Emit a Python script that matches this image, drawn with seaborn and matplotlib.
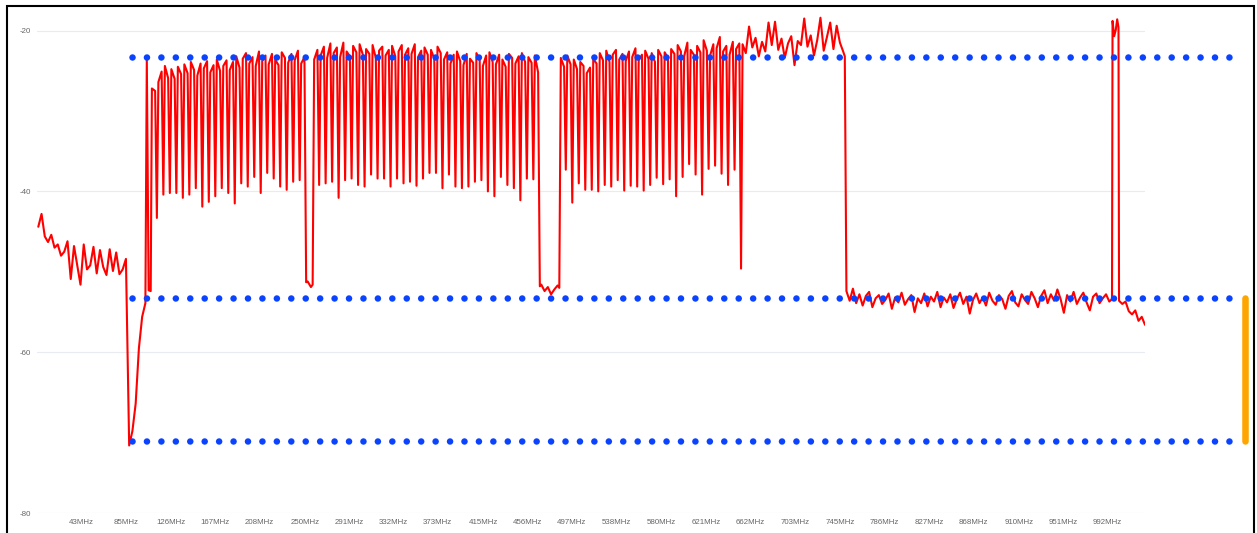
import numpy as np
import pandas as pd
import matplotlib
matplotlib.use("Agg")
import matplotlib.pyplot as plt
import seaborn as sns
from matplotlib.patches import Rectangle

sns.set_theme(style="white")
plt.rcParams["font.family"] = ["Liberation Sans", "DejaVu Sans"]
plt.rcParams["axes.unicode_minus"] = False

# sweep bins: 3 MHz apart, first bin at 3.7 MHz (levels in dBm)
SWEEP_START_MHZ = 3.7
SWEEP_STEP_MHZ = 3.0
sweep_dbm = [
    -44.4, -42.8, -45.6, -46.3, -45.4, -47.0, -46.6, -48.0, -47.5, -46.2,
    -50.9, -46.8, -49.2, -51.6, -46.6, -49.7, -49.2, -46.9, -50.2, -47.3,
    -49.4, -50.4, -47.2, -49.9, -47.6, -50.3, -49.7, -48.4, -71.6, -69.8,
    -66.4, -59.5, -55.6, -53.9, -52.3, -27.2, -27.5, -26.4, -25.1, -24.4,
    -25.9, -24.8, -26.0, -24.5, -25.4, -24.2, -25.3, -23.9, -24.9, -25.6,
    -24.1, -24.7, -23.8, -25.2, -24.3, -23.6, -25.0, -24.4, -23.7, -24.9,
    -23.9, -23.2, -24.6, -23.5, -22.8, -24.1, -23.3, -24.4, -22.6, -23.8,
    -23.1, -24.2, -22.9, -23.6, -24.3, -22.7, -23.4, -24.0, -22.9, -23.7,
    -22.5, -24.1, -23.3, -51.2, -51.9, -23.6, -22.4, -23.1, -22.0, -23.4,
    -21.6, -22.8, -22.1, -23.3, -21.5, -22.6, -23.2, -21.9, -22.7, -21.7,
    -23.0, -22.3, -22.9, -21.8, -23.4, -22.5, -22.0, -23.1, -22.4, -21.9,
    -23.2, -22.6, -21.8, -23.0, -22.2, -22.9, -21.7, -23.3, -22.5, -22.1,
    -23.0, -22.4, -23.5, -22.0, -22.8, -23.6, -22.7, -24.1, -23.0, -22.6,
    -23.8, -24.3, -22.9, -23.5, -24.0, -22.8, -23.7, -24.4, -23.1, -22.7,
    -23.9, -24.2, -23.0, -23.6, -24.5, -22.9, -23.4, -24.1, -23.2, -22.8,
    -23.9, -23.3, -24.0, -23.1, -25.2, -51.6, -52.4, -51.9, -52.8, -52.2,
    -51.7, -23.4, -24.5, -23.1, -24.2, -23.6, -24.8, -23.9, -24.4, -25.3,
    -24.6, -23.5, -24.1, -22.8, -23.7, -22.5, -23.9, -23.0, -22.4, -23.6,
    -22.9, -23.8, -22.6, -23.3, -22.2, -23.7, -23.0, -22.5, -23.5, -22.8,
    -23.9, -22.4, -23.2, -22.7, -23.4, -22.3, -22.9, -21.8, -22.6, -23.2,
    -21.5, -22.4, -23.0, -21.9, -22.7, -21.2, -22.5, -23.1, -21.7, -22.2,
    -20.8, -22.6, -21.9, -23.0, -21.4, -22.3, -21.6, -21.7, -22.8, -19.5,
    -22.1, -20.9, -23.2, -21.4, -22.6, -19.0, -21.8, -18.9, -22.4, -21.0,
    -23.4, -21.6, -20.7, -24.3, -21.3, -21.8, -18.5, -22.0, -20.6, -23.1,
    -21.2, -18.4, -22.5, -20.8, -19.0, -22.3, -19.4, -21.5, -22.6, -52.4,
    -53.6, -52.1, -53.9, -52.8, -54.2, -53.0, -52.5, -54.4, -53.3, -52.9,
    -54.0, -53.5, -52.7, -54.6, -53.2, -53.8, -52.6, -54.1, -53.4, -52.9,
    -55.0, -53.3, -53.9, -52.7, -54.3, -53.1, -53.7, -52.5, -54.4, -53.2,
    -53.8, -52.8, -54.5, -53.4, -52.6, -54.0, -53.1, -55.2, -53.5, -52.7,
    -53.9, -53.2, -54.2, -52.6, -53.6, -54.1, -52.9, -53.4, -54.6, -53.0,
    -52.4, -53.8, -54.3, -52.8, -53.5, -54.0, -52.5, -53.3, -54.4, -53.0,
    -52.3, -53.9, -52.8, -53.6, -52.2, -53.4, -55.1, -52.9, -53.7, -52.5,
    -54.0, -53.2, -52.6, -53.8, -54.8, -53.1, -52.7, -53.9, -53.3, -52.8,
    -53.7, -18.8, -19.9, -53.6, -54.0, -53.7, -54.9, -55.3, -54.8, -56.1,
    -55.6, -56.6,
]

# narrow gaps between the 6 MHz channels
gap_mhz = [
    113.3, 119.3, 125.3, 131.3, 137.3, 143.3, 149.3, 155.3, 161.3, 167.3,
    173.3, 179.3, 185.3, 191.3, 197.3, 203.3, 209.3, 215.3, 221.3, 227.3,
    233.3, 239.3, 245.3, 251.3, 257.3, 263.3, 269.3, 275.3, 281.3, 287.3,
    293.3, 299.3, 305.3, 311.3, 317.3, 323.3, 329.3, 335.3, 341.3, 347.3,
    353.3, 359.3, 365.3, 371.3, 377.3, 383.3, 389.3, 395.3, 401.3, 407.3,
    413.3, 419.3, 425.3, 431.3, 437.3, 443.3, 449.3, 455.3, 461.3, 467.3,
    485.3, 491.3, 497.3, 503.3, 509.3, 515.3, 521.3, 527.3,
    533.3, 539.3, 545.3, 551.3, 557.3, 563.3, 569.3, 575.3, 581.3, 587.3,
    593.3, 599.3, 605.3, 611.3, 617.3, 623.3, 629.3, 635.3, 641.3, 647.3,
    653.3,
]
gap_dbm = [
    -43.3, -40.4, -40.2, -40.2, -40.8, -40.4, -39.6, -41.9, -41.3, -40.6,
    -39.6, -40.2, -41.5, -39.0, -39.4, -38.2, -40.2, -37.7, -38.4, -39.4,
    -39.8, -38.8, -38.6, -51.3, -51.6, -39.2, -39.0, -38.8, -40.8, -38.6,
    -38.4, -39.2, -39.4, -37.9, -38.4, -38.4, -39.4, -38.4, -39.0, -38.8,
    -39.3, -38.4, -37.7, -37.7, -39.6, -37.9, -39.4, -39.6, -39.4, -38.8,
    -38.6, -40.0, -40.6, -38.2, -39.2, -39.6, -41.1, -38.4, -38.5, -51.8,
    -52.0, -37.3, -41.4, -39.0, -39.8, -39.8, -40.0, -39.2,
    -39.4, -38.6, -39.9, -39.3, -39.4, -39.9, -39.2, -38.3, -39.1, -38.5,
    -40.6, -38.2, -36.6, -37.9, -40.4, -37.2, -36.8, -37.8, -39.2, -37.3,
    -49.6,
]

# single narrow features: spike near 104 MHz, sharp band edges, carrier near 1000 MHz
extra_mhz = [104.0, 107.6, 749.2, 996.2, 998.2, 1001.0, 1002.2]
extra_dbm = [-23.6, -52.4, -23.2, -53.4, -20.7, -18.6, -19.6]

threshold_dbm = [-23.3, -53.3, -71.1]
threshold_span_mhz = [90.3, 1104.4]
marker_mhz = [1119.2, 1119.2]
marker_span_dbm = [-53.3, -71.1]

tick_mhz = [43, 85, 126, 167, 208, 250, 291, 332, 373, 415, 456, 497,
            538, 580, 621, 662, 703, 745, 786, 827, 868, 910, 951, 992]
tick_labels = [f"{t}MHz" for t in tick_mhz]
y_ticks = [-80, -60, -40, -20]
y_labels = ["-80", "-60", "-40", "-20"]

BLUE = "#0a43ff"
ORANGE = "#ffa500"
LABEL_GREY = "#666666"

sweep_mhz = SWEEP_START_MHZ + SWEEP_STEP_MHZ * np.arange(len(sweep_dbm))
trace = pd.concat([
    pd.DataFrame({"freq_mhz": sweep_mhz, "level_dbm": sweep_dbm}),
    pd.DataFrame({"freq_mhz": gap_mhz, "level_dbm": gap_dbm}),
    pd.DataFrame({"freq_mhz": extra_mhz, "level_dbm": extra_dbm}),
], ignore_index=True).sort_values("freq_mhz")

fig = plt.figure(figsize=(12.57, 5.33), dpi=100)
ax = fig.add_axes([37 / 1257, 20 / 533, 1108 / 1257, 498.5 / 533])

sns.lineplot(data=trace, x="freq_mhz", y="level_dbm", color="red",
             linewidth=1.5, estimator=None, sort=False, ax=ax, zorder=2)

# dotted limit lines, drawn past the plot area like the original
dot_lw = 4.7
for level in threshold_dbm:
    ax.plot(threshold_span_mhz, [level, level], color=BLUE, lw=dot_lw,
            linestyle=(0, (0.01, 2.201)), dash_capstyle="round",
            clip_on=False, zorder=3)

ax.plot(marker_mhz, marker_span_dbm, color=ORANGE, lw=4.7,
        solid_capstyle="round", clip_on=False, zorder=3)

ax.set_xlim(2.5, 1026.7)
ax.set_ylim(-80, -18)
ax.set_xticks(tick_mhz, labels=tick_labels)
ax.set_yticks(y_ticks, labels=y_labels)
ax.tick_params(axis="both", length=0, pad=4.3, labelsize=5.7, labelcolor=LABEL_GREY)
ax.set_xlabel("")
ax.set_ylabel("")
ax.yaxis.grid(True, color="#e8ecf2", linewidth=0.8)
ax.xaxis.grid(False)
for spine in ax.spines.values():
    spine.set_visible(False)

# black frame round the screenshot (bottom edge is cut off)
fig.add_artist(Rectangle((6.5 / 1257, -0.1), (1254 - 6.5) / 1257, 0.1 + (533 - 6.5) / 533,
                         transform=fig.transFigure, fill=False,
                         edgecolor="black", linewidth=1.5))

fig.savefig("out.png", dpi=100)
